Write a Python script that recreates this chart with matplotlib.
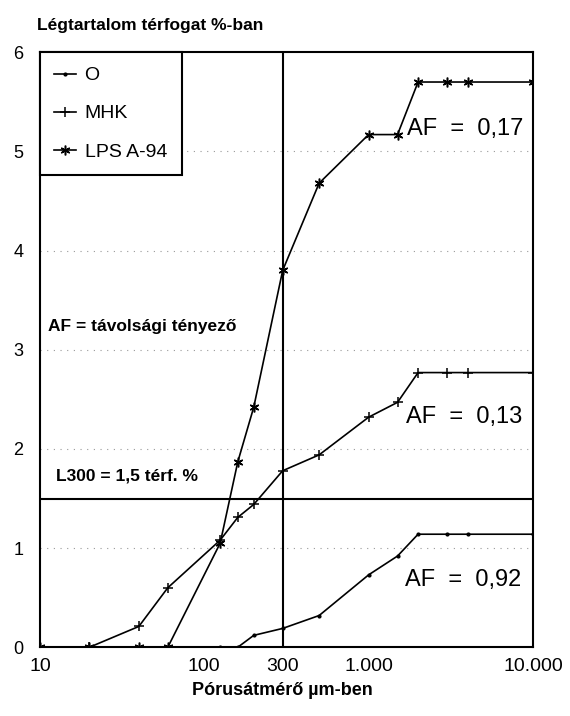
import numpy as np
import matplotlib.pyplot as plt

plt.rcParams['font.family'] = ['Liberation Sans', 'DejaVu Sans']

# pore diameter (um) and air content (vol %)
pore_size = [10, 20, 40, 60, 125, 160, 200, 300, 500, 1000, 1500, 2000, 3000, 4000, 10000]
air_o = [0, 0, 0, 0, 0, 0, 0.12, 0.19, 0.32, 0.73, 0.92, 1.14, 1.14, 1.14, 1.14]
air_mhk = [0, 0, 0.21, 0.60, 1.08, 1.31, 1.44, 1.78, 1.94, 2.32, 2.47, 2.77, 2.77, 2.77, 2.77]
air_lps = [0, 0, 0, 0, 1.05, 1.87, 2.42, 3.80, 4.68, 5.17, 5.17, 5.70, 5.70, 5.70, 5.70]

x_ticks = [10, 100, 300, 1000, 10000]
x_labels = ['10', '100', '300', '1.000', '10.000']
y_ticks = [0, 1, 2, 3, 4, 5, 6]

af_labels = ['AF  =  0,17', 'AF  =  0,13', 'AF  =  0,92']
af_pos = [(1720, 5.23), (1700, 2.32), (1660, 0.675)]

fig = plt.figure(figsize=(5.7, 7.16), dpi=100)
ax = fig.add_axes([0.070, 0.096, 0.865, 0.831])

ax.set_xscale('log')
ax.set_xlim(10, 10000)
ax.set_ylim(0, 6)

for y in [1, 2, 3, 4, 5]:
    ax.axhline(y, color='#999999', lw=0.8, ls=(0, (1, 5)), zorder=1)

ax.axhline(1.5, color='black', lw=1.5, zorder=2)
ax.axvline(300, color='black', lw=1.5, zorder=2)

ax.plot(pore_size, air_o, color='black', lw=1.2, marker='.', ms=4, label='O', zorder=3)
ax.plot(pore_size, air_mhk, color='black', lw=1.2, marker='+', ms=7, mew=1.1, label='MHK', zorder=3)
ax.plot(pore_size, air_lps, color='black', lw=1.2, marker=(6, 2, 0), ms=7, mew=1.1,
        label='LPS A-94', zorder=3)

ax.set_xticks(x_ticks)
ax.set_xticklabels(x_labels, fontsize=14)
ax.xaxis.set_minor_locator(plt.NullLocator())
ax.set_yticks(y_ticks)
ax.set_yticklabels([str(v) for v in y_ticks], fontsize=13)
ax.tick_params(length=0, pad=8)
ax.tick_params(axis='y', pad=12)

for s in ax.spines.values():
    s.set_linewidth(1.5)

for txt, (xx, yy) in zip(af_labels, af_pos):
    ax.text(xx, yy, txt, fontsize=17, va='center', ha='left', zorder=4,
            bbox=dict(facecolor='white', edgecolor='none', pad=0.5))

ax.text(11.2, 3.23, 'AF = távolsági tényező', fontsize=12.5, fontweight='bold', va='center')
ax.text(12.5, 1.73, 'L300 = 1,5 térf. %', fontsize=12.5, fontweight='bold', va='center')

leg = ax.legend(loc='upper left', borderaxespad=0, fontsize=14, handlelength=1.1,
                handletextpad=0.45, labelspacing=1.05, borderpad=0.75, fancybox=False,
                framealpha=1, edgecolor='black')
leg.get_frame().set_linewidth(1.5)

fig.text(0.065, 0.965, 'Légtartalom térfogat %-ban', fontsize=12.5, fontweight='bold', va='center')
fig.text(0.495, 0.036, 'Pórusátmérő µm-ben', fontsize=13, fontweight='bold', va='center', ha='center')

fig.savefig('out.png', dpi=100)
